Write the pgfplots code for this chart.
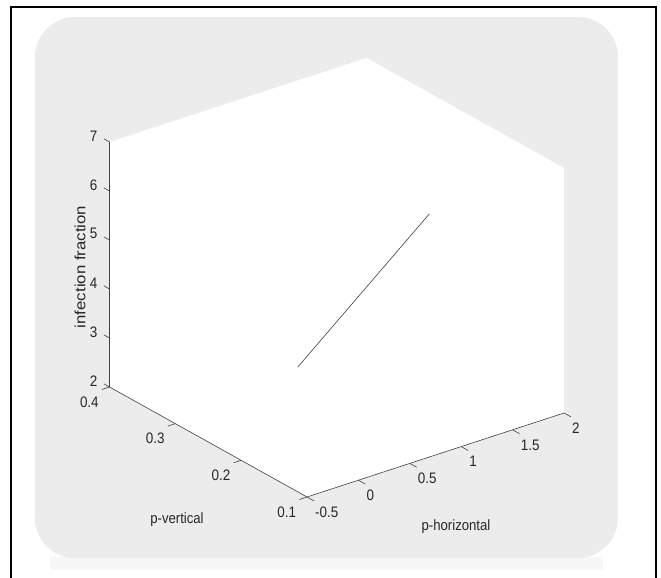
\documentclass[border=0pt]{standalone}
\usepackage{pgfplots}
\pgfplotsset{compat=1.18}
\usepackage{fontspec}
\setmainfont{Liberation Sans}
\definecolor{figgray}{HTML}{ECECEC}
\definecolor{txt}{HTML}{262626}
\definecolor{axc}{HTML}{404040}
\pgfdeclarelayer{bg}
\pgfsetlayers{bg,main}
\begin{document}
\begin{tikzpicture}
\begin{axis}[
  x={(102.8bp,33.6bp)}, y={(-658.3bp,366.7bp)}, z={(0bp,49bp)},
  xmin=-0.5, xmax=2, ymin=0.1, ymax=0.4, zmin=2, zmax=7,
  xtick={-0.5,0,0.5,1,1.5,2}, ytick={0.1,0.2,0.3,0.4}, ztick={2,3,4,5,6,7},
  scaled ticks=false,
  tick pos=left,
  axis line style={draw=none},
  tick style={draw=none},
  major tick length=8bp,
  tick align=outside,
  clip=false,
  /pgf/number format/assume math mode=true,
  ticklabel style={font=\fontsize{13.5}{14}\selectfont, text=txt, inner sep=0pt, yscale=1.13},
  xticklabel style={anchor=north west, xshift=1bp, yshift=-5bp},
  yticklabel style={anchor=north east, xshift=-3bp, yshift=-6bp},
  zticklabel style={anchor=east, xshift=-5bp, yshift=2bp},
]
\coordinate (O) at (axis cs:-0.5,0.1,2);
\fill[white] (axis cs:-0.5,0.1,2) -- (axis cs:2,0.1,2) -- (axis cs:2,0.1,7) -- (axis cs:2,0.4,7) -- (axis cs:-0.5,0.4,7) -- (axis cs:-0.5,0.4,2) -- cycle;
\draw[axc, line width=0.6bp] (axis cs:2,0.1,2) -- (axis cs:-0.5,0.1,2) -- (axis cs:-0.5,0.4,2) -- (axis cs:-0.5,0.4,7);
\pgfplotsinvokeforeach{-0.5,0,0.5,1,1.5,2}{
  \draw[axc, line width=0.6bp] (axis cs:#1,0.1,2) -- (axis cs:#1,0.0894,2);
}
\pgfplotsinvokeforeach{0.1,0.2,0.3,0.4}{
  \draw[axc, line width=0.6bp] (axis cs:-0.5,#1,2) -- (axis cs:-0.574,#1,2);
}
\pgfplotsinvokeforeach{2,3,4,5,6,7}{
  \draw[axc, line width=0.6bp] (axis cs:-0.5,0.4,#1) -- (axis cs:-0.5,0.4085,#1);
}
\addplot3[black!75, line width=0.6bp, no marks] coordinates {(0.37,0.25,2.93) (1.65,0.25,5.18)};
\end{axis}
\coordinate (P) at ([shift={(-307bp,-81bp)}]O);
\begin{pgfonlayer}{bg}
\begin{scope}[shift={(P)}, x=1bp, y=1bp]
  \fill[black!3] (50,8) rectangle (603,21);
  \fill[figgray, rounded corners=40bp] (35,20) rectangle (618,561);
\end{scope}
\end{pgfonlayer}
\begin{scope}[shift={(P)}, x=1bp, y=1bp]
  \draw[black, line width=2bp] (11,0) -- (11,571.5) -- (656.5,571.5) -- (656.5,0);
  \node[font=\fontsize{13.2}{14}\selectfont, text=txt, yscale=1.13] at (456,51) {p-horizontal};
  \node[font=\fontsize{13.2}{14}\selectfont, text=txt, yscale=1.13] at (177,58) {p-vertical};
  \node[font=\fontsize{14.9}{16}\selectfont, text=txt, yscale=1.13, rotate=90] at (80,311) {infection fraction};
\end{scope}
\pgfresetboundingbox
\path (P) rectangle ([shift={(661bp,578bp)}]P);
\end{tikzpicture}
\end{document}
